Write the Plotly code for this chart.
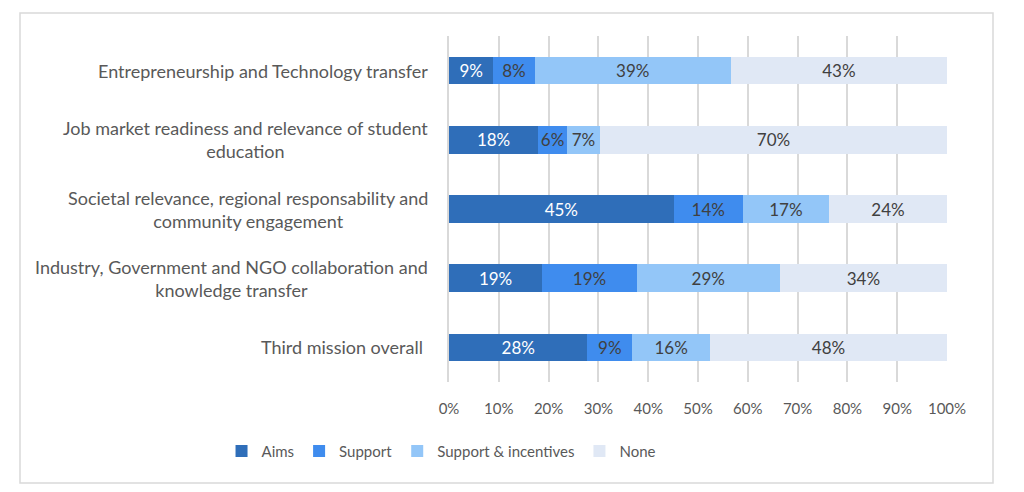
import plotly.graph_objects as go

categories = [
    "Entrepreneurship and Technology transfer",
    "Job market readiness and relevance of student<br>education",
    "Societal relevance, regional responsability and<br>community engagement",
    "Industry, Government and NGO collaboration and<br>knowledge transfer",
    "Third mission overall ",
]
series_names = ["Aims", "Support", "Support & incentives", "None"]
aims = [8.9, 17.9, 45.1, 18.7, 27.8]
support = [8.3, 5.8, 13.9, 19.0, 9.0]
support_incentives = [39.4, 6.6, 17.3, 28.7, 15.6]
none = [43.4, 69.7, 23.7, 33.6, 47.6]
tick_vals = [0, 10, 20, 30, 40, 50, 60, 70, 80, 90, 100]
tick_text = ["0%", "10%", "20%", "30%", "40%", "50%", "60%", "70%", "80%", "90%", "100%"]

colors = ["#2F6EB9", "#3F8CEE", "#93C6F8", "#E0E8F5"]
text_colors = ["#FFFFFF", "#404040", "#404040", "#404040"]
FONT = "Lato"

fig = go.Figure()
for name, vals, c, tc in zip(series_names, [aims, support, support_incentives, none], colors, text_colors):
    fig.add_trace(go.Bar(
        y=categories, x=vals, name=name, orientation="h",
        marker=dict(color=c, line=dict(width=0)),
        text=[f"{v:.0f}%" for v in vals], textposition="inside",
        insidetextanchor="middle",
        textfont=dict(color=tc, size=17, family=FONT),
        constraintext="none",
    ))

for cat in categories:
    fig.add_annotation(
        x=-0.038, xref="paper", y=cat, yref="y", text=cat,
        showarrow=False, xanchor="right", align="center",
        font=dict(size=18, color="#595959", family=FONT),
    )

fig.update_layout(
    barmode="stack",
    width=1016, height=484,
    margin=dict(l=441, r=77, t=28, b=110),
    paper_bgcolor="white", plot_bgcolor="white",
    bargap=0.6,
    font=dict(family=FONT, color="#595959", size=16),
    uniformtext=dict(minsize=8, mode="show"),
    legend=dict(orientation="h", x=-0.015, xanchor="center", y=-0.2, yanchor="middle",
                font=dict(size=15, color="#595959", family=FONT),
                traceorder="normal", itemwidth=30),
    xaxis=dict(range=[0, 100], tickvals=tick_vals, ticktext=tick_text,
               showgrid=True, gridcolor="#D9D9D9", gridwidth=1.5,
               zeroline=False, showline=False, ticks="",
               ticklabelstandoff=16,
               tickfont=dict(size=15, color="#595959", family=FONT)),
    yaxis=dict(categoryorder="array", categoryarray=categories, autorange="reversed",
               showticklabels=False, showgrid=False, zeroline=False,
               showline=True, linecolor="#D9D9D9", linewidth=1.5, ticks=""),
    shapes=[dict(type="rect", xref="paper", yref="paper",
                 x0=(20 - 449) / 498, x1=(993 - 449) / 498,
                 y0=(382 - 483) / 346, y1=(382 - 13) / 346,
                 line=dict(color="#D9D9D9", width=1.5), fillcolor="rgba(0,0,0,0)", layer="below")],
)

fig.write_html("out.html")
